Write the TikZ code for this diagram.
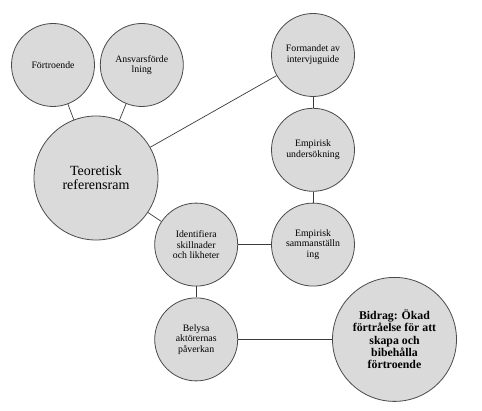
\documentclass[tikz,border=0pt]{standalone}
\usepackage{fontspec}
\setmainfont{Liberation Serif}
\usepackage{tikz}
\usetikzlibrary{positioning}
\definecolor{discgrey}{HTML}{DADADA}
\definecolor{ringgrey}{HTML}{4A4A4A}
\definecolor{linkgrey}{HTML}{3A3A3A}
\tikzset{
  topic/.style={
    circle, draw=ringgrey, fill=discgrey, line width=0.8pt,
    minimum size=#1, inner sep=1pt, align=center,
    font=\fontsize{9.8}{10.7}\selectfont
  },
  topic/.default=83pt,
  bigtopic/.style={
    topic=124pt, font=\fontsize{14}{14.3}\selectfont
  },
  goaltopic/.style={
    topic=124pt, font=\fontsize{11.8}{12.3}\selectfont\bfseries
  },
  link/.style={
    draw=linkgrey, line width=0.7pt
  }
}

\begin{document}
\begin{tikzpicture}[x=1pt, y=-1pt]
\useasboundingbox (0,0) rectangle (482,411);

% Theory side
\node[topic] (fort) at (53,65) {Förtroende};
\node[topic, right=5pt of fort] (ansvar) {Ansvarsförde\\lning};
\node[bigtopic] (teori) at (96,178) {Teoretisk\\referensram};

% Empirical chain
\node[topic] (form) at (313,55) {Formandet av\\intervjuguide};
\node[topic, below=11pt of form] (emp) {Empirisk\\undersökning};
\node[topic, below=11pt of emp] (samm) {Empirisk\\sammanställn\\ing};

% Analysis and result
\node[topic, left=33pt of samm] (ident) {Identifiera\\skillnader\\och likheter};
\node[topic, below=11pt of ident] (belysa) {Belysa\\aktörernas\\påverkan};
\node[goaltopic, right=94pt of belysa] (bidrag) {Bidrag: Ökad\\förtråelse för att\\skapa och\\bibehålla\\förtroende};

\draw[link] (fort) -- (teori);
\draw[link] (ansvar) -- (teori);
\draw[link] (teori) -- (form);
\draw[link] (form) -- (emp);
\draw[link] (emp) -- (samm);
\draw[link] (teori) -- (ident);
\draw[link] (ident) -- (samm);
\draw[link] (ident) -- (belysa);
\draw[link] (belysa) -- (bidrag);

\end{tikzpicture}
\end{document}
